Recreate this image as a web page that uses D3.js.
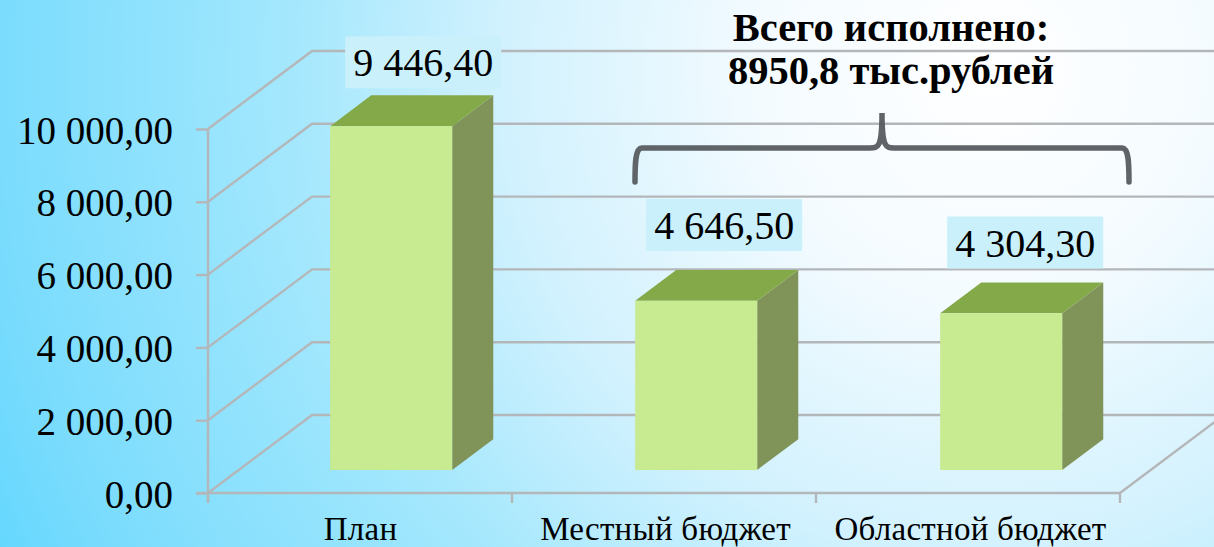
<!DOCTYPE html>
<html>
<head>
<meta charset="utf-8">
<script src="https://d3js.org/d3.v7.min.js"></script>
<style>
  html, body { margin: 0; padding: 0; overflow: hidden; }
  svg { display: block; font-family: "Liberation Serif", serif; }
</style>
</head>
<body>
<svg id="chart"></svg>
<script>
const categories = ["План", "Местный бюджет", "Областной бюджет"];
const values = [9446.40, 4646.50, 4304.30];
const yTicks = [0, 2000, 4000, 6000, 8000, 10000];
const titleLines = ["Всего исполнено:", "8950,8 тыс.рублей"];

const width = 1214;
const height = 547;

const svg = d3.select("#chart").attr("width", width).attr("height", height);

// фон
const defs = svg.append("defs");
const bg = defs.append("radialGradient")
  .attr("id", "bg")
  .attr("gradientUnits", "userSpaceOnUse")
  .attr("cx", 990).attr("cy", 70).attr("r", 1130);
bg.selectAll("stop")
  .data([[0, "#ffffff"], [0.2, "#f4fbff"], [0.437, "#d0f1fe"], [0.61, "#a6e8fd"], [0.7, "#96e4fd"], [0.878, "#7bdcfd"], [1, "#5fd6fe"]])
  .join("stop")
  .attr("offset", d => d[0])
  .attr("stop-color", d => d[1]);
svg.append("rect").attr("width", width).attr("height", height).attr("fill", "url(#bg)");

const x = d3.scaleBand().domain(categories).range([208, 1123]).paddingInner(0.6).paddingOuter(0.3);
const edges = d3.scaleLinear().domain([0, categories.length]).range([208, 1120]);
const y = d3.scaleLinear().domain([0, 10000]).range([493, 129]);

// псевдо-3D: смещение в глубину
const depthX = 104;
const depthY = 78;
const barNear = 0.295;
const barFar = 0.69;
const px = (cx, d) => cx + depthX * d;
const py = (v, d) => y(v) - depthY * d;
const poly = pts => "M" + pts.map(p => p.join(",")).join("L") + "Z";

const gridColor = "#b4b7ba";
const gridWidth = 2.4;
const fmt = d3.formatLocale({ decimal: ",", thousands: " ", grouping: [3], currency: ["", ""] }).format(",.2f");

// ===== СЕТКА =====
const grid = svg.append("g").attr("fill", "none").attr("stroke", gridColor).attr("stroke-width", gridWidth);
grid.selectAll("path.wall")
  .data(yTicks)
  .join("path")
  .attr("class", "wall")
  .attr("d", d => `M${px(edges(0), 0)},${py(d, 0)}L${px(edges(0), 1)},${py(d, 1)}L${px(edges(3), 1) + 10},${py(d, 1)}`);
grid.append("path")
  .attr("d", `M${px(edges(3), 0)},${py(0, 0)}L${px(edges(3), 1)},${py(0, 1)}`);

// ===== ОСИ =====
const yAxis = d3.axisLeft(y).tickValues(yTicks).tickSize(12).tickPadding(23).tickFormat(fmt);
const gy = svg.append("g").attr("transform", `translate(${edges(0)},0)`).call(yAxis);
gy.select(".domain").attr("d", `M0,${y(10000)}V${y(0) + 10}`).attr("stroke", gridColor).attr("stroke-width", gridWidth);
gy.selectAll(".tick line").attr("stroke", gridColor).attr("stroke-width", gridWidth);
gy.selectAll(".tick text").attr("font-size", 39).attr("font-family", "Liberation Serif").attr("fill", "#000").attr("dy", "0.36em");

const xAxis = d3.axisBottom(x).tickSize(0).tickPadding(23.5);
const gx = svg.append("g").attr("transform", `translate(0,${y(0)})`).call(xAxis);
gx.select(".domain").remove();
gx.selectAll(".tick text")
  .attr("font-size", 33)
  .attr("letter-spacing", 0.25)
  .attr("font-family", "Liberation Serif")
  .attr("fill", "#000");

// линия пола и засечки по границам категорий
svg.append("line")
  .attr("x1", edges(0) - 12).attr("x2", edges(3))
  .attr("y1", y(0)).attr("y2", y(0))
  .attr("stroke", gridColor).attr("stroke-width", gridWidth);
svg.selectAll("line.edge")
  .data(d3.range(categories.length + 1))
  .join("line")
  .attr("class", "edge")
  .attr("x1", i => edges(i)).attr("x2", i => edges(i))
  .attr("y1", y(0)).attr("y2", y(0) + 10)
  .attr("stroke", gridColor).attr("stroke-width", gridWidth);

// ===== СТОЛБЦЫ =====
const bars = svg.selectAll("g.bar")
  .data(categories.map((c, i) => ({ c, v: values[i] })))
  .join("g")
  .attr("class", "bar");

bars.append("path")
  .attr("fill", "#80945a")
  .attr("d", d => {
    const r = x(d.c) + x.bandwidth();
    return poly([[px(r, barNear), py(0, barNear)], [px(r, barFar), py(0, barFar)], [px(r, barFar), py(d.v, barFar)], [px(r, barNear), py(d.v, barNear)]]);
  });
bars.append("path")
  .attr("fill", "#84a948")
  .attr("d", d => {
    const l = x(d.c), r = l + x.bandwidth();
    return poly([[px(l, barNear), py(d.v, barNear)], [px(l, barFar), py(d.v, barFar)], [px(r, barFar), py(d.v, barFar)], [px(r, barNear), py(d.v, barNear)]]);
  });
bars.append("rect")
  .attr("fill", "#c8ea90")
  .attr("x", d => px(x(d.c), barNear))
  .attr("y", d => py(d.v, barNear))
  .attr("width", x.bandwidth())
  .attr("height", d => py(0, barNear) - py(d.v, barNear));

// ===== ПОДПИСИ ЗНАЧЕНИЙ =====
const labelW = 156;
const labelH = 52;
const labelNudge = [[32, -7], [28, -19], [24, -14]];
const labels = bars.append("g")
  .attr("transform", (d, i) => {
    const cx = px(x(d.c) + x.bandwidth() / 2, barNear) + labelNudge[i][0];
    const bottom = py(d.v, barFar) + labelNudge[i][1];
    return `translate(${cx},${bottom})`;
  });
labels.append("rect")
  .attr("x", -labelW / 2).attr("y", -labelH)
  .attr("width", labelW).attr("height", labelH)
  .attr("fill", "#c9f0fb");
labels.append("text")
  .attr("y", -labelH / 2)
  .attr("dy", "0.35em")
  .attr("text-anchor", "middle")
  .attr("font-size", 40)
  .attr("fill", "#000")
  .text(d => fmt(d.v));

// ===== СКОБКА =====
svg.append("path")
  .attr("fill", "none")
  .attr("stroke", "#54585c")
  .attr("stroke-opacity", 0.93)
  .attr("stroke-width", 5.5)
  .attr("stroke-linecap", "round")
  .attr("d", "M635,182C635,165 635,148 642,148L870,148C878,148 882,148 882,113C882,148 886,148 894,148L1122,148C1129,148 1129,165 1129,182");

// ===== ЗАГОЛОВОК =====
svg.selectAll("text.title")
  .data(titleLines)
  .join("text")
  .attr("class", "title")
  .attr("x", 891)
  .attr("y", (d, i) => 41 + i * 43)
  .attr("text-anchor", "middle")
  .attr("font-size", 40.5)
  .attr("font-weight", "bold")
  .attr("fill", "#000")
  .text(d => d);
</script>
</body>
</html>
